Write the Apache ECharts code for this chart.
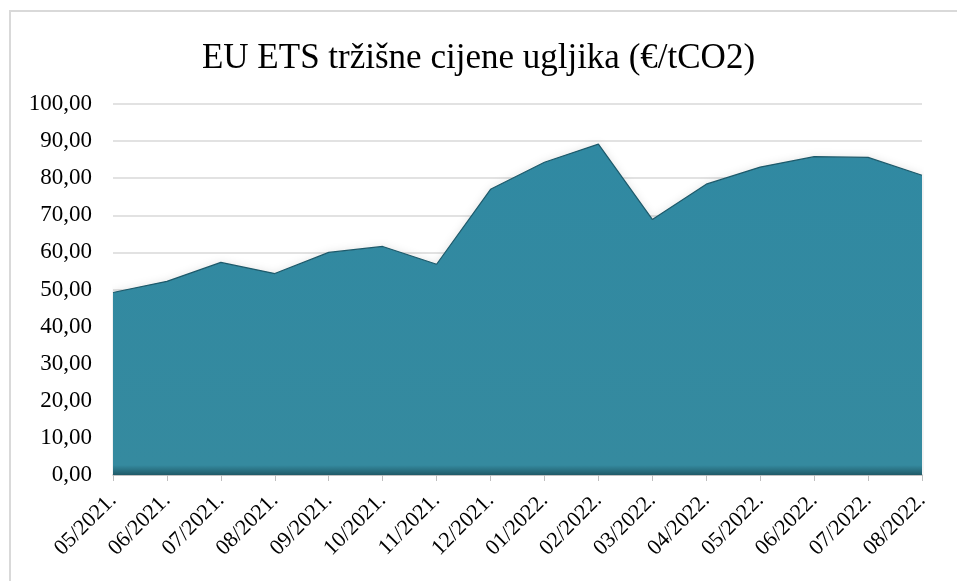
<!DOCTYPE html>
<html>
<head>
<meta charset="utf-8">
<script src="https://cdn.jsdelivr.net/npm/echarts@6/dist/echarts.min.js"></script>
<style>
  html, body {margin:0; padding:0; background:#fff;}
  #chart {width:957px; height:581px;}
</style>
</head>
<body>
<div id="chart"></div>
<script>
// EU ETS mjesečne cijene
const months = ["05/2021.", "06/2021.", "07/2021.", "08/2021.", "09/2021.", "10/2021.", "11/2021.", "12/2021.",
                "01/2022.", "02/2022.", "03/2022.", "04/2022.", "05/2022.", "06/2022.", "07/2022.", "08/2022."];
const prices = [49.2, 52.2, 57.3, 54.3, 60.0, 61.6, 56.8, 77.0, 84.3, 89.2, 68.9, 78.4, 83.0, 85.8, 85.6, 80.8];
const yTicks = {min:0, max:100, interval:10};

let serif = '"Liberation Serif", "Times New Roman", serif';
let chart = echarts.init(document.getElementById('chart'));
let options = {
    backgroundColor: '#fff',
    animation: false,
    title: {
        text: 'EU ETS tržišne cijene ugljika (€/tCO2)',
        left: 'center',
        top: 36,
        textStyle: {fontFamily: serif, fontSize: 35, fontWeight: 'normal', color: '#000'}
    },
    graphic: [{
        type: 'rect',
        shape: {x: 10, y: 11, width: 960, height: 600},
        style: {fill: 'none', stroke: '#d9d9d9', lineWidth: 2},
        silent: true
    }],
    grid: {left: 113, right: 35, top: 104, bottom: 106},
    xAxis: {
        type: 'category',
        data: months,
        boundaryGap: false,
        axisLine: {lineStyle: {color: '#bfbfbf', width: 1.5}},
        axisTick: {show: true, length: 6, lineStyle: {color: '#bfbfbf'}},
        axisLabel: {
            rotate: 45,
            interval: 0,
            margin: 22,
            fontFamily: serif,
            fontSize: 22,
            color: '#000'
        }
    },
    yAxis: {
        type: 'value',
        min: yTicks.min,
        max: yTicks.max,
        interval: yTicks.interval,
        axisLine: {show: false},
        axisTick: {show: false},
        splitLine: {lineStyle: {color: '#d9d9d9', width: 1.5}},
        axisLabel: {
            margin: 21,
            fontFamily: serif,
            fontSize: 23,
            color: '#000',
            formatter: v => v.toFixed(2).replace('.', ',')
        }
    },
    series: [{
        type: 'line',
        data: prices,
        symbol: 'none',
        lineStyle: {color: '#1d5a6b', width: 1.2},
        areaStyle: {
            color: new echarts.graphic.LinearGradient(0, 0, 0, 1, [
                {offset: 0, color: '#3089a2'},
                {offset: 0.97, color: '#358a9f'},
                {offset: 1, color: '#1f5a68'}
            ]),
            opacity: 1,
            shadowColor: 'rgba(0,0,0,0.12)',
            shadowBlur: 8
        }
    }]
};
chart.setOption(options);
</script>
</body>
</html>
